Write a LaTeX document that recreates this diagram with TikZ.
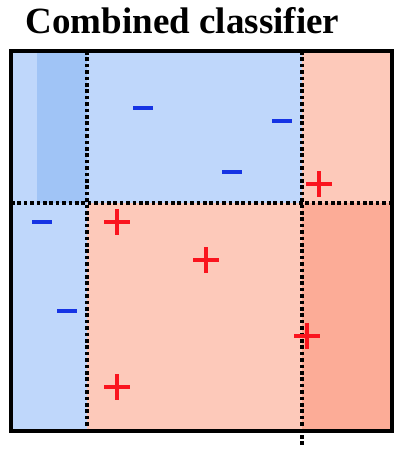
\documentclass[tikz,border=0pt]{standalone}
\usepackage{fontspec}
\setmainfont{Liberation Serif}
\newfontfamily\titlefont{Liberation Serif Bold}
\usepackage{tikz}
\usetikzlibrary{calc}
\definecolor{negpale}{RGB}{191,215,251}
\definecolor{negdeep}{RGB}{160,196,246}
\definecolor{pospale}{RGB}{253,201,186}
\definecolor{posdeep}{RGB}{252,172,151}
\definecolor{negink}{RGB}{22,52,228}
\definecolor{posink}{RGB}{250,20,30}

\begin{document}
\begin{tikzpicture}[x=1pt,y=-1pt,
  split/.style={line width=4pt,dash pattern=on 3.6pt off 2.8pt},
  frame/.style={line width=3.4pt},
  negmark/.style={line width=4.4pt,negink},
  posmark/.style={line width=4.4pt,posink}
]
\useasboundingbox (0,0) rectangle (402,450);
% title
\node[anchor=base,inner sep=0pt,font=\titlefont\fontsize{37}{40}\selectfont] (title) at (182.5,33) {Combined classifier};
% corners of the frame
\coordinate (tl) at (11,51);
\coordinate (br) at (392,431);
% regions
\fill[negpale] (tl) rectangle (302,203);
\fill[negdeep] (37,51) rectangle (87,203);
\fill[pospale] (302,51) rectangle (392,203);
\fill[negpale] (11,203) rectangle (87,431);
\fill[pospale] (87,203) rectangle (302,431);
\fill[posdeep] (302,203) rectangle (br);
% splits
\coordinate (s1top) at (87,51);
\coordinate (s1bot) at (87,431);
\coordinate (s2top) at (302,51);
\coordinate (s2bot) at (302,445);
\coordinate (s3l) at (11,203);
\coordinate (s3r) at (392,203);
\draw[split] (s1top) -- (s1bot);
\draw[split] (s2top) -- (s2bot);
\draw[split] (s3l) -- (s3r);
\draw[frame] (tl) rectangle (br);
% samples
\foreach \x/\y in {143/108, 282/121, 232/172, 42/222, 67/311}
  \draw[negmark] (\x-10,\y) -- (\x+10,\y);
\foreach \x/\y in {319/184, 117/222, 206/260, 307/336, 117/387}
  \draw[posmark] (\x-13,\y) -- (\x+13,\y) (\x,\y-13) -- (\x,\y+13);
\end{tikzpicture}
\end{document}
